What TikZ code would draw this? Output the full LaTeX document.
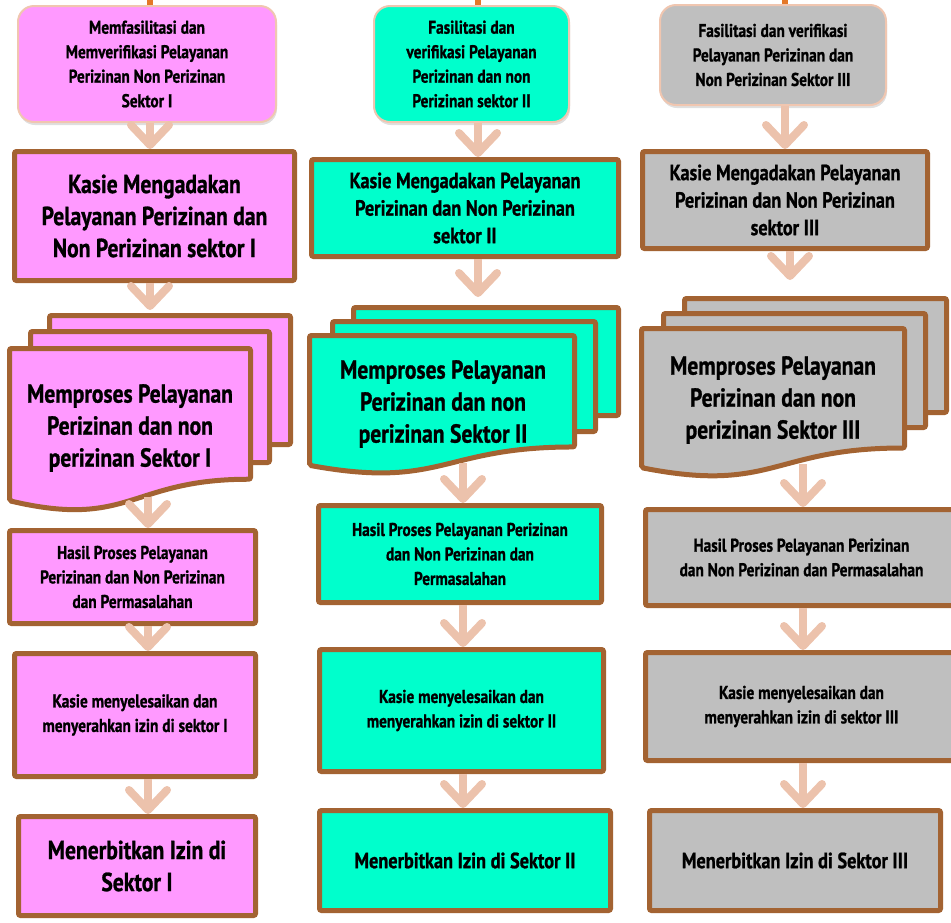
\documentclass[tikz,border=0pt]{standalone}
\usepackage{fontspec}
\setmainfont{PT Sans}[FakeStretch=0.83,FakeBold=1]
\usetikzlibrary{positioning,arrows.meta,shadows}

\definecolor{pinkbox}{RGB}{255,153,255}
\definecolor{aquabox}{RGB}{0,255,204}
\definecolor{graybox}{RGB}{191,191,191}
\definecolor{brownline}{RGB}{163,99,50}
\definecolor{peachline}{RGB}{240,198,176}
\definecolor{flowarrow}{RGB}{236,194,172}
\definecolor{stubline}{RGB}{228,120,40}

\newcommand{\bigtxt}{\fontsize{26}{32}\selectfont\bfseries}
\newcommand{\midtxt}{\fontsize{22}{27.5}\selectfont\bfseries}
\newcommand{\smalltxt}{\fontsize{18.5}{24.5}\selectfont\bfseries}

% front sheet of a stack: left x, top y, right x, height, fill
\newcommand{\docsheet}[5]{%
  \draw[sheet,fill=#5] (#1,#2) -- (#3,#2) -- (#3,{#2+0.802*#4})
    .. controls ({(#1+#3)/2},{#2+0.802*#4}) and ({(#1+#3)/2},{#2+1.1075*#4}) .. (#1,{#2+0.934*#4}) -- cycle;}

\tikzset{
  procbox/.style={rectangle,draw=brownline,line width=5pt,rounded corners=2pt,align=center,inner sep=0pt},
  sheet/.style={draw=brownline,line width=5pt,rounded corners=2pt},
  startbox/.style={rectangle,draw=peachline,line width=2pt,rounded corners=16pt,align=center,inner sep=0pt,
    drop shadow={opacity=0.25,shadow xshift=1pt,shadow yshift=-3pt}},
  flow/.style={draw=flowarrow,line width=8pt,-{Straight Barb[length=20pt,width=38pt,round]}},
  stub/.style={draw=stubline,line width=6pt}
}

\begin{document}
\begin{tikzpicture}[x=1pt,y=-1pt]
  \clip (0,0) rectangle (951,922);
  \coordinate (in1) at (150,0);
  \coordinate (in2) at (478,0);
  \coordinate (in3) at (785,0);

  %Sektor I
  \node[startbox,fill=pinkbox,minimum width=258pt,minimum height=116pt,font=\smalltxt] (top1) at (147,64)
    {Memfasilitasi dan\\Memverifikasi Pelayanan\\Perizinan Non Perizinan\\Sektor I};
  \node[procbox,fill=pinkbox,minimum width=280pt,minimum height=129pt,font=\bigtxt] (kasie1) at (154.5,216)
    {Kasie Mengadakan\\Pelayanan Perizinan dan\\Non Perizinan sektor I};
  \node[sheet,fill=pinkbox,minimum width=241pt,minimum height=129pt] (doc1b) at (170,380) {};
  \node[sheet,fill=pinkbox,minimum width=239pt,minimum height=131pt] (doc1a) at (150,397) {};
  \docsheet{9.5}{348.5}{250.5}{163}{pinkbox}
  \node[font=\bigtxt,align=center] (proc1) at (130,428) {Memproses Pelayanan\\Perizinan dan non\\perizinan Sektor I};
  \coordinate (wv1) at (148,497);
  \node[procbox,fill=pinkbox,minimum width=246pt,minimum height=93pt,font=\smalltxt] (hasil1) at (132.5,577)
    {Hasil Proses Pelayanan\\Perizinan dan Non Perizinan\\dan Permasalahan};
  \node[procbox,fill=pinkbox,minimum width=241pt,minimum height=123pt,font=\smalltxt] (selesai1) at (135,715)
    {Kasie menyelesaikan dan\\menyerahkan izin di sektor I};
  \node[procbox,fill=pinkbox,minimum width=237pt,minimum height=99pt,font=\bigtxt] (terbit1) at (137,866)
    {Menerbitkan Izin di\\Sektor I};

  %Sektor II
  \node[startbox,fill=aquabox,minimum width=195pt,minimum height=116pt,font=\smalltxt] (top2) at (471.5,64)
    {Fasilitasi dan\\verifikasi Pelayanan\\Perizinan dan non\\Perizinan sektor II};
  \node[procbox,fill=aquabox,minimum width=307pt,minimum height=97pt,font=\midtxt] (kasie2) at (465,208)
    {Kasie Mengadakan Pelayanan\\Perizinan dan Non Perizinan\\sektor II};
  \node[sheet,fill=aquabox,minimum width=265pt,minimum height=108pt] (doc2b) at (486,361.5) {};
  \node[sheet,fill=aquabox,minimum width=263pt,minimum height=110pt] (doc2a) at (464,376.5) {};
  \docsheet{309.5}{335.5}{574.5}{139}{aquabox}
  \node[font=\bigtxt,align=center] (proc2) at (443,404) {Memproses Pelayanan\\Perizinan dan non\\perizinan Sektor II};
  \coordinate (wv2) at (463,463);
  \node[procbox,fill=aquabox,minimum width=283pt,minimum height=97pt,font=\smalltxt] (hasil2) at (460,554)
    {Hasil Proses Pelayanan Perizinan\\dan Non Perizinan dan\\Permasalahan};
  \node[procbox,fill=aquabox,minimum width=284pt,minimum height=122pt,font=\smalltxt] (selesai2) at (461.5,710.5)
    {Kasie menyelesaikan dan\\menyerahkan izin di sektor II};
  \node[procbox,fill=aquabox,minimum width=291pt,minimum height=100pt,font=\midtxt] (terbit2) at (465,860.5)
    {Menerbitkan Izin di Sektor II};

  %Sektor III
  \node[startbox,fill=graybox,minimum width=226pt,minimum height=100pt,font=\smalltxt] (top3) at (773,55)
    {Fasilitasi dan verifikasi\\Pelayanan Perizinan dan\\Non Perizinan Sektor III};
  \node[procbox,fill=graybox,minimum width=285pt,minimum height=97pt,font=\midtxt] (kasie3) at (785,200)
    {Kasie Mengadakan Pelayanan\\Perizinan dan Non Perizinan\\sektor III};
  \node[sheet,fill=graybox,minimum width=262pt,minimum height=114pt] (doc3b) at (815.5,355.5) {};
  \node[sheet,fill=graybox,minimum width=262pt,minimum height=114pt] (doc3a) at (794.5,370.5) {};
  \docsheet{641.5}{328.5}{904.5}{149}{graybox}
  \node[font=\bigtxt,align=center] (proc3) at (773,400) {Memproses Pelayanan\\Perizinan dan non\\perizinan Sektor III};
  \coordinate (wv3) at (803,464);
  \node[procbox,fill=graybox,minimum width=312pt,minimum height=96pt,font=\smalltxt] (hasil3) at (801.5,557.5)
    {Hasil Proses Pelayanan Perizinan\\dan Non Perizinan dan Permasalahan};
  \node[procbox,fill=graybox,minimum width=312pt,minimum height=108pt,font=\smalltxt] (selesai3) at (801.5,706.5)
    {Kasie menyelesaikan dan\\menyerahkan izin di sektor III};
  \node[procbox,fill=graybox,minimum width=291pt,minimum height=100pt,font=\midtxt] (terbit3) at (795,860.5)
    {Menerbitkan Izin di Sektor III};

  %Incoming lines
  \foreach \c in {1,2,3} {
    \draw[stub] (in\c) -- (top\c.north -| in\c);
  }

  %Arrows
  \draw[flow] (top1.south -| in1) -- (kasie1.north -| in1);
  \draw[flow,shorten >=3pt] (kasie1.south -| in1) -- (doc1b.north -| in1);
  \draw[flow] (wv1) -- (hasil1.north -| wv1);
  \draw[flow] (hasil1.south -| wv1) -- (selesai1.north -| wv1);
  \draw[flow] (selesai1.south -| wv1) -- (terbit1.north -| wv1);

  \draw[flow] (top2.south -| in2) -- (kasie2.north -| in2);
  \draw[flow,shorten >=8pt] (kasie2.south -| in2) -- (doc2b.north -| in2);
  \draw[flow] (wv2) -- (hasil2.north -| wv2);
  \draw[flow] (hasil2.south -| wv2) -- (selesai2.north -| wv2);
  \draw[flow] (selesai2.south -| wv2) -- (terbit2.north -| wv2);

  \draw[flow] (top3.south -| in3) -- (kasie3.north -| in3);
  \draw[flow,shorten >=16pt] ([xshift=5pt]kasie3.south -| in3) -- ([xshift=5pt]doc3b.north -| in3);
  \draw[flow] (wv3) -- (hasil3.north -| wv3);
  \draw[flow] (hasil3.south -| wv3) -- (selesai3.north -| wv3);
  \draw[flow] (selesai3.south -| wv3) -- (terbit3.north -| wv3);
\end{tikzpicture}
\end{document}
